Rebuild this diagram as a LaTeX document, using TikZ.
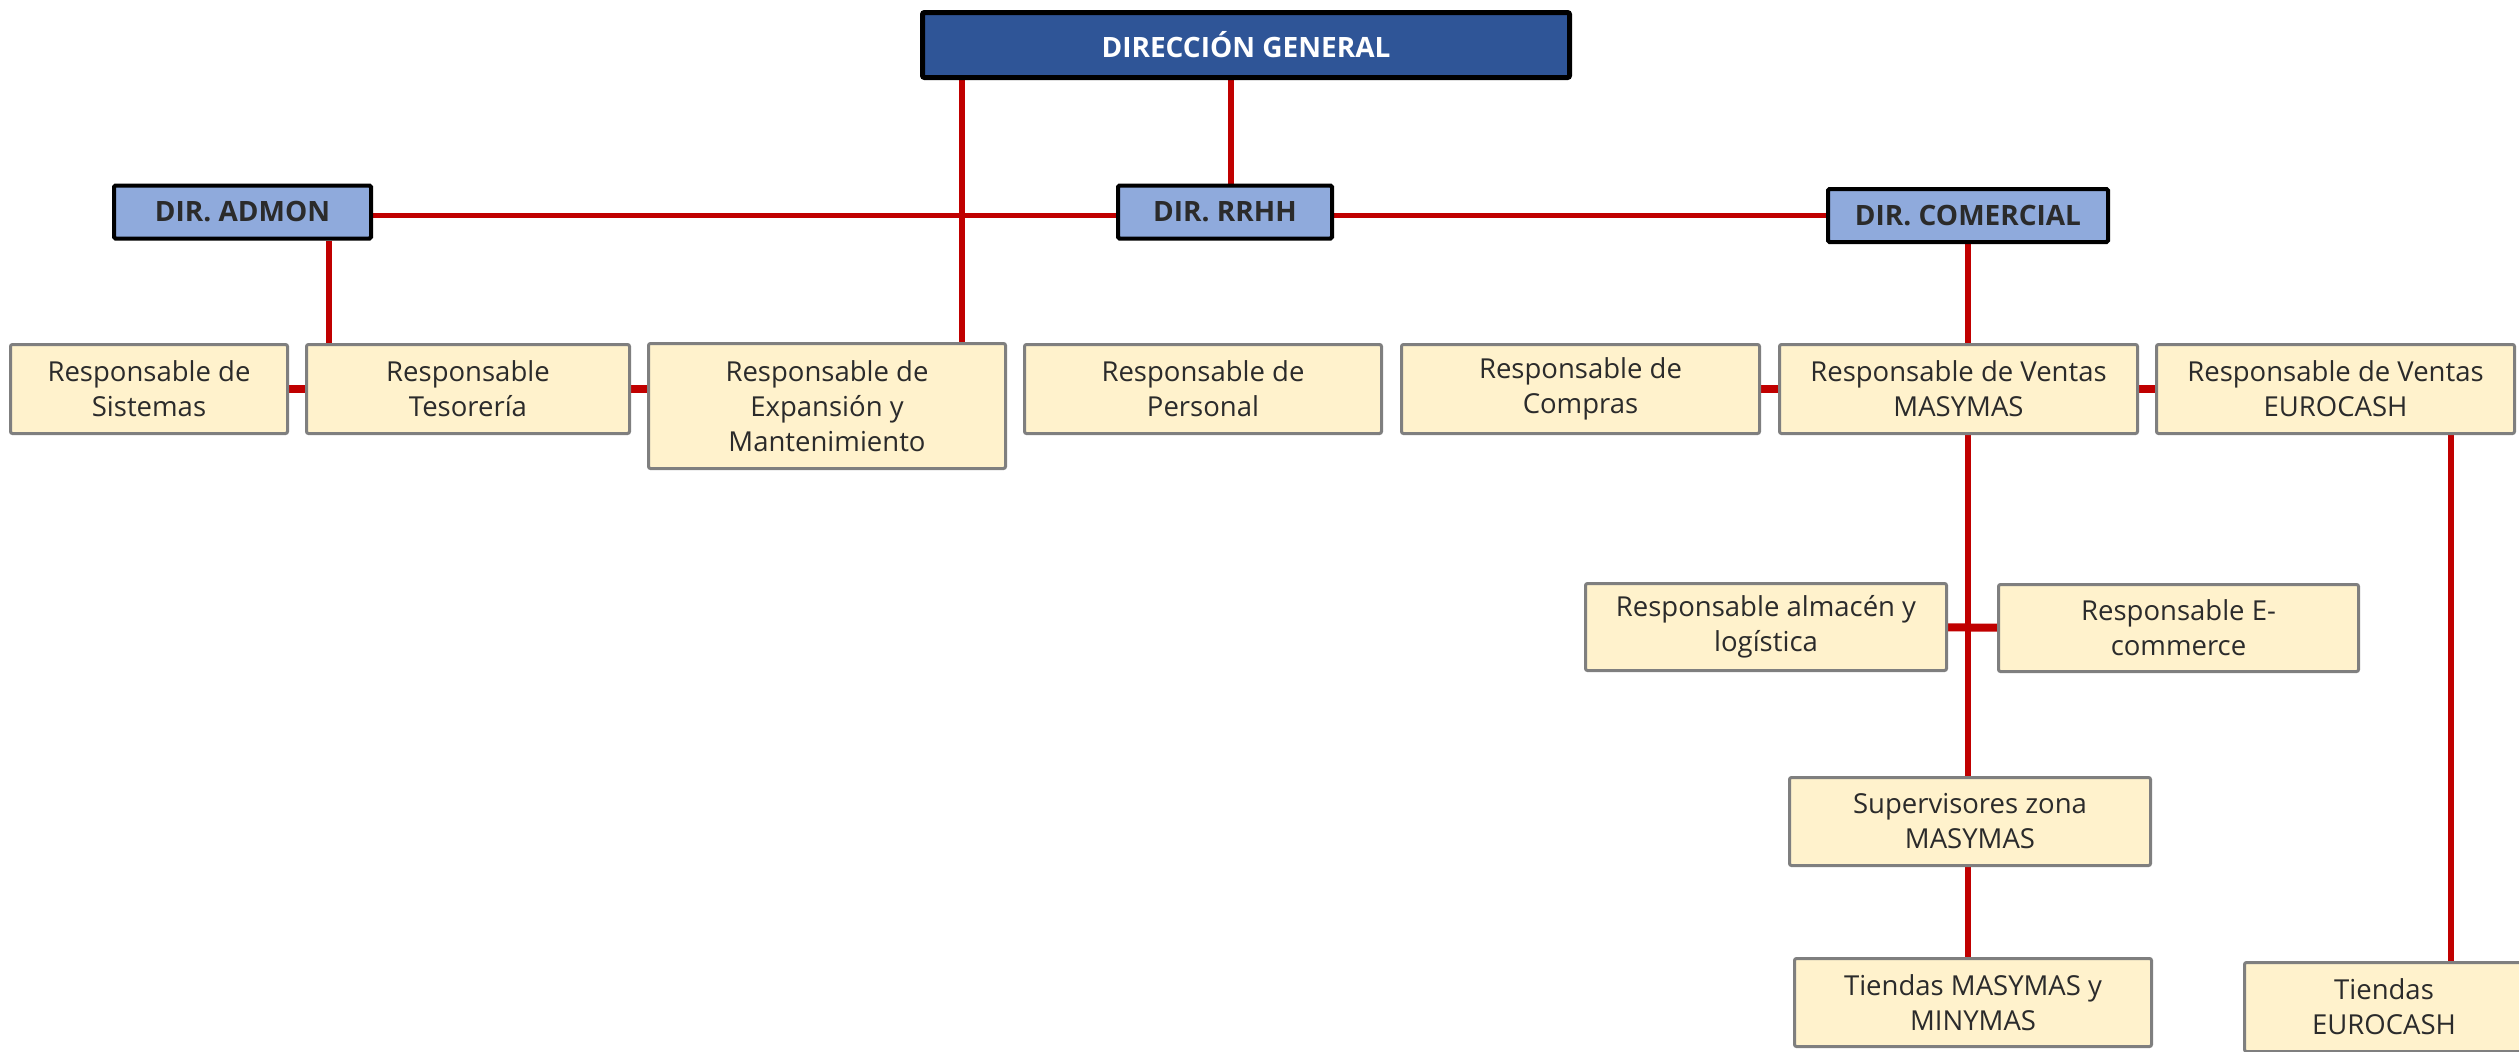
\documentclass[tikz,border=0pt]{standalone}
\usepackage{fontspec}
\setmainfont{Open Sans}
\usetikzlibrary{backgrounds}
\definecolor{dgblue}{HTML}{2F5597}
\definecolor{lblue}{HTML}{8FAADC}
\definecolor{cream}{HTML}{FFF2CC}
\definecolor{bgray}{HTML}{7F7F7F}
\definecolor{lred}{HTML}{C00000}
\definecolor{txt}{HTML}{2B2B2B}
\tikzset{
  topbox/.style={draw=black, line width=5pt, fill=dgblue, text=white,
    font=\fontsize{28}{34}\selectfont\bfseries, rounded corners=2pt, inner sep=0pt},
  dirbox/.style={draw=black, line width=4pt, fill=lblue, text=txt,
    font=\fontsize{28}{34}\selectfont\bfseries, rounded corners=1.5pt, inner sep=0pt},
  resbox/.style={draw=bgray, line width=3pt, fill=cream, text=txt,
    font=\fontsize{27.5}{35}\selectfont, align=center, inner sep=0pt, rounded corners=2pt},
  link/.style={draw=lred, line width=5.5pt},
  stub/.style={draw=lred, line width=8pt}
}
\begin{document}
\begin{tikzpicture}[x=1pt,y=-1pt]
\useasboundingbox (0,0) rectangle (2519,1052);
% top level
\node[topbox, minimum width=647, minimum height=65] (dg) at (1246,45) {DIRECCIÓN GENERAL};
\node[dirbox, minimum width=257, minimum height=53] (admon) at (242.5,212) {DIR. ADMON};
\node[dirbox, minimum width=214, minimum height=53] (rrhh) at (1225,212) {DIR. RRHH};
\node[dirbox, minimum width=280, minimum height=53] (com) at (1968,215.5) {DIR. COMERCIAL};
% second row
\node[resbox, minimum width=277, minimum height=89] (sis) at (149,389) {Responsable de\\Sistemas};
\node[resbox, minimum width=323, minimum height=89] (teso) at (468,389) {Responsable\\Tesorería};
\node[resbox, minimum width=357, minimum height=125] (exp) at (827,406) {Responsable de\\Expansión y\\Mantenimiento};
\node[resbox, minimum width=357, minimum height=89] (pers) at (1203,389) {Responsable de\\Personal};
\node[resbox, minimum width=358, minimum height=89] (compras) at (1580.5,389) {Responsable de\\Compras};
\node[resbox, minimum width=358, minimum height=89] (ventm) at (1958.5,389) {Responsable de Ventas\\MASYMAS};
\node[resbox, minimum width=358, minimum height=89] (vente) at (2335.5,389) {Responsable de Ventas\\EUROCASH};
% lower
\node[resbox, minimum width=361, minimum height=87] (alm) at (1766,627) {Responsable almacén y\\logística};
\node[resbox, minimum width=360, minimum height=87] (ecom) at (2178.5,628) {Responsable E-\\commerce};
\node[resbox, minimum width=361, minimum height=88] (sup) at (1970,821.5) {Supervisores zona\\MASYMAS};
\node[resbox, minimum width=357, minimum height=88] (tm) at (1973,1002.5) {Tiendas MASYMAS y\\MINYMAS};
\node[resbox, minimum width=279, minimum height=89] (te) at (2384,1007) {Tiendas\\EUROCASH};
% connectors
\begin{pgfonlayer}{background}
\draw[link] (admon.center |- com.center) -- (com.center);
\draw[link] ([xshift=6pt]rrhh.north) -- ([xshift=6pt]rrhh.north |- dg.south);
\draw[link] ([xshift=135pt]exp.north) -- ([xshift=135pt]exp.north |- dg.south);
\draw[link] ([xshift=86.5pt]admon.south) -- ([xshift=86.5pt]admon.south |- teso.north);
\draw[link] (com.south) -- (com.south |- ventm.north);
\draw[link] (com.south |- ventm.south) -- (com.south |- sup.north);
\draw[link] (sup.south -| com.south) -- (com.south |- tm.north);
\draw[link] ([xshift=115.5pt]vente.south) -- ([xshift=115.5pt]vente.south |- te.north);
\draw[stub] (sis.center) -- (teso.center);
\draw[stub] (teso.center) -- (exp.center |- teso.center);
\draw[stub] (compras.center) -- (ventm.center);
\draw[stub] (ventm.center) -- (vente.center);
\draw[stub] (alm.center) -- (ecom.center);
\end{pgfonlayer}
\end{tikzpicture}
\end{document}
